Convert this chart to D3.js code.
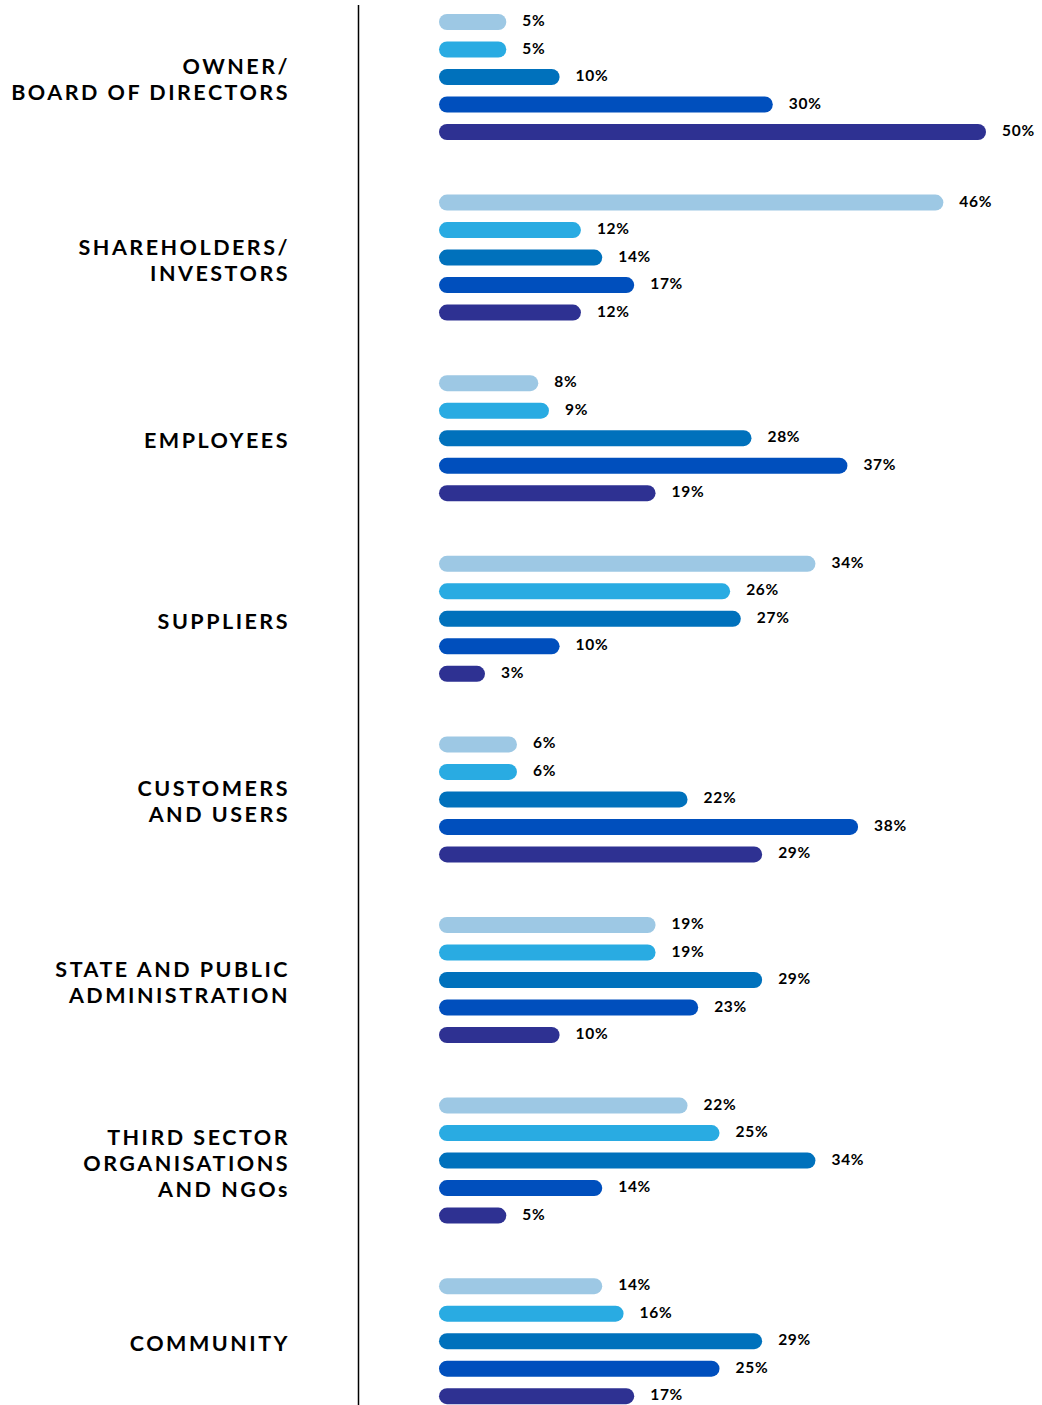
<!DOCTYPE html>
<html>
<head>
<meta charset="utf-8">
<script src="https://cdn.jsdelivr.net/npm/d3@7"></script>
<style>
  body { margin: 0; background: #fff; }
  .cat { font: 700 21.5px Lato, sans-serif; letter-spacing: 2.5px; fill: #000; }
  .val { font: 700 15.5px Lato, sans-serif; letter-spacing: 0.7px; fill: #000; }
</style>
</head>
<body>
<svg id="viz"></svg>
<script>
const categories = [
  ["OWNER/", "BOARD OF DIRECTORS"],
  ["SHAREHOLDERS/", "INVESTORS"],
  ["EMPLOYEES"],
  ["SUPPLIERS"],
  ["CUSTOMERS", "AND USERS"],
  ["STATE AND PUBLIC", "ADMINISTRATION"],
  ["THIRD SECTOR", "ORGANISATIONS", "AND NGOs"],
  ["COMMUNITY"]
];

const seriesKeys = ["s1", "s2", "s3", "s4", "s5"];
const s1 = [5, 46, 8, 34, 6, 19, 22, 14];
const s2 = [5, 12, 9, 26, 6, 19, 25, 16];
const s3 = [10, 14, 28, 27, 22, 29, 34, 29];
const s4 = [30, 17, 37, 10, 38, 23, 14, 25];
const s5 = [50, 12, 19, 3, 29, 10, 5, 17];
const seriesColors = ["#9DC8E4", "#29ABE2", "#0071BC", "#004FBD", "#2E3192"];

const seriesValues = [s1, s2, s3, s4, s5];

const width = 1042, height = 1405;
const barH = 16;
const barX = 439;

const svg = d3.select("#viz")
  .attr("width", width)
  .attr("height", height)
  .attr("viewBox", [0, 0, width, height]);

// group bands, one per stakeholder
const yGroup = d3.scaleBand()
  .domain(d3.range(categories.length))
  .range([5, 5 + 180.6 * categories.length])
  .paddingInner(0);

// bars inside a group
const yBar = d3.scalePoint()
  .domain(seriesKeys)
  .range([17, 17 + 27.5 * 4]);

const x = d3.scaleLinear()
  .domain([0, 50])
  .range([453, 986]);

const color = d3.scaleOrdinal().domain(seriesKeys).range(seriesColors);

// divider
svg.append("line")
  .attr("x1", 358.5).attr("x2", 358.5)
  .attr("y1", 5).attr("y2", height)
  .attr("stroke", "#000")
  .attr("stroke-width", 1.5);

const rows = [];
categories.forEach((c, i) => {
  seriesKeys.forEach((k, j) => {
    rows.push({ group: i, key: k, value: seriesValues[j][i] });
  });
});

const groups = svg.selectAll(".group")
  .data(categories)
  .join("g")
    .attr("class", "group")
    .attr("transform", (d, i) => `translate(0,${yGroup(i)})`);

// category labels
groups.append("text")
  .attr("class", "cat")
  .attr("text-anchor", "end")
  .attr("x", 290)
  .attr("y", d => yBar("s3") + 10 - (d.length - 1) * 13)
  .selectAll("tspan")
  .data(d => d)
  .join("tspan")
    .attr("x", 290)
    .attr("dy", (d, i) => i === 0 ? 0 : 26)
    .text(d => d);

groups.selectAll(".bar")
  .data((d, i) => rows.filter(r => r.group === i))
  .join("rect")
    .attr("class", "bar")
    .attr("x", barX)
    .attr("y", d => yBar(d.key) - barH / 2)
    .attr("width", d => x(d.value) - barX)
    .attr("height", barH)
    .attr("rx", barH / 2)
    .attr("fill", d => color(d.key));

groups.selectAll(".val")
  .data((d, i) => rows.filter(r => r.group === i))
  .join("text")
    .attr("class", "val")
    .attr("x", d => x(d.value) + 16)
    .attr("y", d => yBar(d.key) + 4)
    .text(d => `${d.value}%`);
</script>
</body>
</html>
